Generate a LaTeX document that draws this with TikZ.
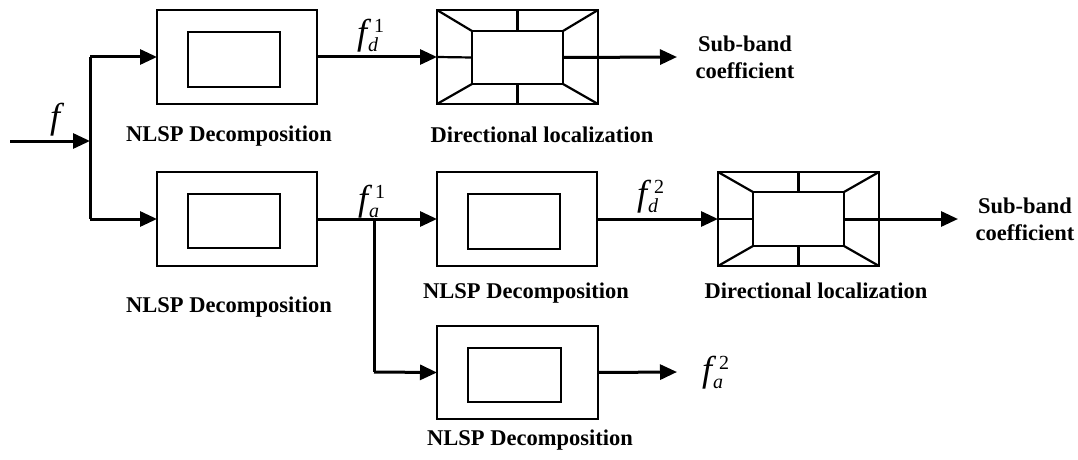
\documentclass[tikz,border=0pt]{standalone}
\usepackage{fontspec}
\setmainfont{Liberation Serif}
\usetikzlibrary{arrows.meta}
\newcommand{\flab}[2]{{\fontsize{36}{36}\selectfont\itshape f}\rlap{\hspace{7pt}\raisebox{12pt}{\fontsize{20}{20}\selectfont #2}}\hspace{1pt}\raisebox{-7pt}{\fontsize{20}{20}\selectfont\itshape #1}}
\begin{document}
\begin{tikzpicture}[x=1pt,y=-1pt,
  box/.style={draw, line width=2pt, inner sep=0pt, outer sep=0pt},
  flow/.style={line width=3pt, -{Triangle[length=17pt,width=15pt]}},
  wire/.style={line width=3pt},
  dirline/.style={line width=2.2pt},
  lbl/.style={font=\fontsize{22.5}{27}\bfseries\selectfont, inner sep=0pt},
  sym/.style={inner sep=0pt, anchor=base west}]
\useasboundingbox (0,0) rectangle (1078,460);
% NLSP boxes
\node[box, minimum width=160pt, minimum height=94pt] (A) at (237,57) {};
\node[box, minimum width=92pt, minimum height=55pt] (A-in) at (234,59.5) {};
\node[box, minimum width=160pt, minimum height=94pt] (B) at (237,219) {};
\node[box, minimum width=92pt, minimum height=54pt] (B-in) at (234,221) {};
\node[box, minimum width=160pt, minimum height=94pt] (C) at (517,219) {};
\node[box, minimum width=92pt, minimum height=55pt] (C-in) at (514,221.5) {};
\node[box, minimum width=161pt, minimum height=93pt] (D) at (517.5,372.5) {};
\node[box, minimum width=93pt, minimum height=54pt] (D-in) at (514.5,375) {};
% Directional boxes
\node[box, minimum width=161pt, minimum height=94pt] (dirA) at (517.5,57) {};
\node[box, minimum width=91pt, minimum height=53pt] (dirA-in) at (517.5,57.5) {};
\node[box, minimum width=161pt, minimum height=94pt] (dirB) at (798.5,219) {};
\node[box, minimum width=91pt, minimum height=54pt] (dirB-in) at (798.5,219) {};
\foreach \d in {dirA,dirB}{
  \draw[dirline] (\d.north west) -- (\d-in.north west);
  \draw[dirline] (\d.north east) -- (\d-in.north east);
  \draw[dirline] (\d.south west) -- (\d-in.south west);
  \draw[dirline] (\d.south east) -- (\d-in.south east);
  \draw[dirline] (\d.north) -- (\d-in.north);
  \draw[dirline] (\d.south) -- (\d-in.south);
  \draw[dirline] (\d.west) -- (\d-in.west);
}
% coordinates
\coordinate (in) at (10,141);
\coordinate (split) at (90,141);
\coordinate (splitT) at (90,57);
\coordinate (splitB) at (90,219);
\coordinate (br) at (374,219);
\coordinate (brD) at (374,372);
\coordinate (outA) at (677,57);
\coordinate (outB) at (958,219);
\coordinate (outD) at (677,372);
% connectors
\draw[flow] (in) -- (split);
\draw[wire] (splitT) -- (splitB);
\draw[flow] (splitT) -- (A.west);
\draw[flow] (splitB) -- (B.west);
\draw[flow] (A.east) -- (dirA.west);
\draw[flow] (dirA-in.east) -- (outA);
\draw[flow] (B.east) -- (C.west);
\draw[wire] (br) -- (brD);
\draw[flow] (brD) -- (D.west);
\draw[flow] (C.east) -- (dirB.west);
\draw[flow] (dirB-in.east) -- (outB);
\draw[flow] (D.east) -- (outD);
% symbols
\node[sym] (lf) at (50,128) {{\fontsize{36}{36}\selectfont\itshape f}};
\node[sym] (lfd1) at (357,45) {\flab{d}{1}};
\node[sym] (lfa1) at (358,210) {\flab{a}{1}};
\node[sym] (lfd2) at (637,205) {\flab{d}{2}};
\node[sym] (lfa2) at (702,381) {\flab{a}{2}};
% labels
\node[lbl, anchor=base] (tA) at (229,141) {NLSP Decomposition};
\node[lbl, anchor=base] (tB) at (229,312) {NLSP Decomposition};
\node[lbl, anchor=base] (tC) at (526,298) {NLSP Decomposition};
\node[lbl, anchor=base] (tD) at (530,445) {NLSP Decomposition};
\node[lbl, anchor=base] (tdA) at (542,142) {Directional localization};
\node[lbl, anchor=base] (tdB) at (816,298) {Directional localization};
\node[lbl, align=center] (sA) at (745,57) {Sub-band\\coefficient};
\node[lbl, align=center] (sB) at (1025,219) {Sub-band\\coefficient};
\end{tikzpicture}
\end{document}
